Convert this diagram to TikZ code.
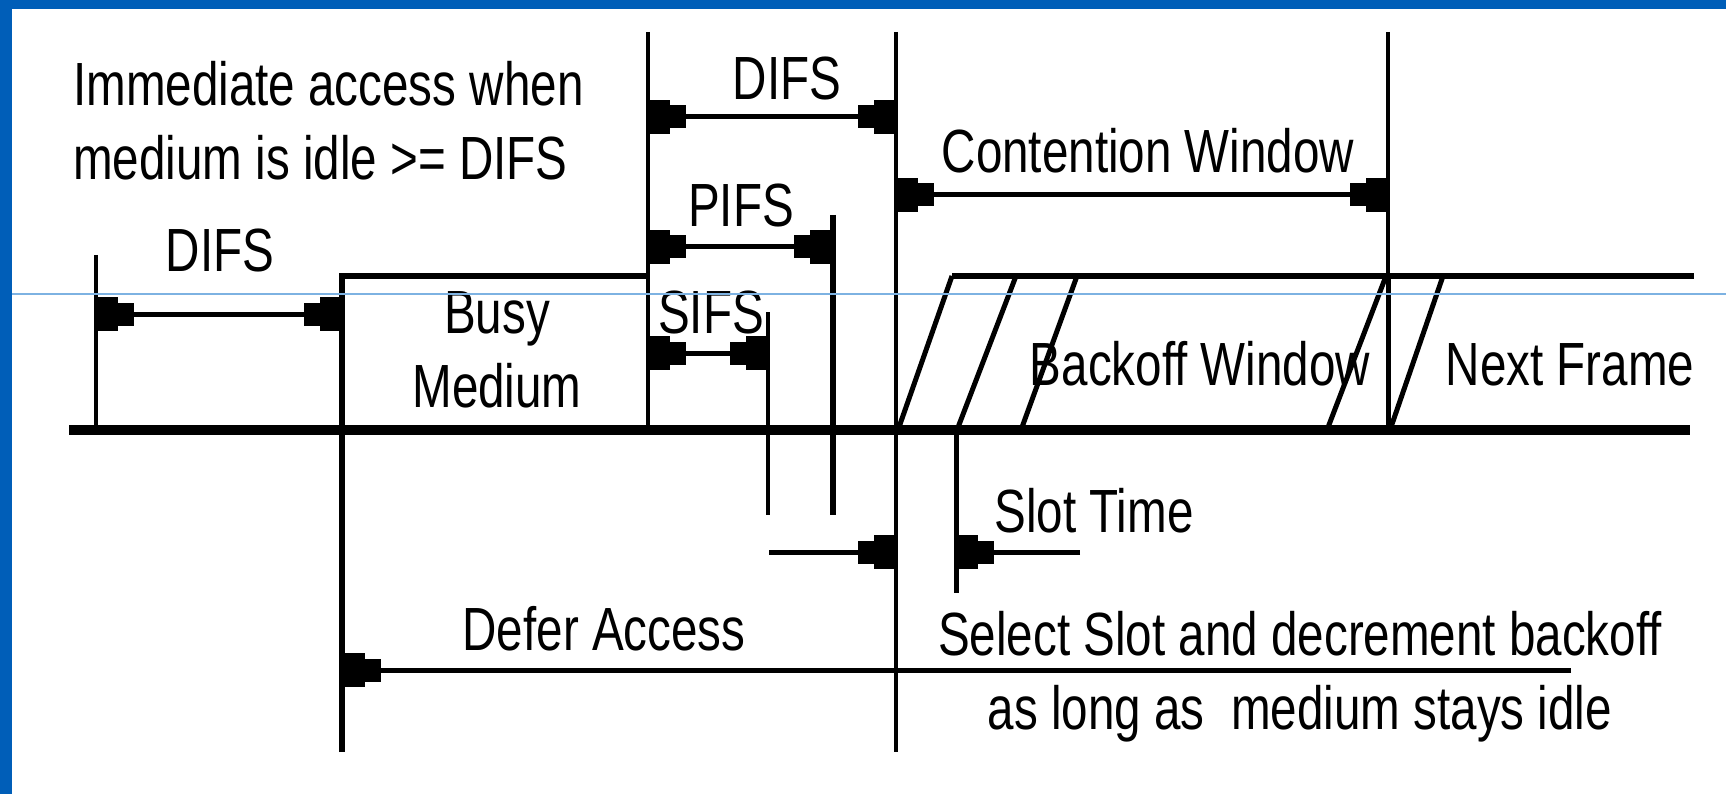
\documentclass[tikz,border=0pt]{standalone}
\usepackage{fontspec}
\usepackage{graphicx}
\setmainfont{Liberation Sans}
\usetikzlibrary{arrows.meta}
\definecolor{frameblue}{RGB}{0,94,184}
\definecolor{guideblue}{RGB}{125,178,226}
\newcommand{\sqz}[1]{\scalebox{0.78}[1]{#1}}
\begin{document}
\begin{tikzpicture}[x=1pt,y=-1pt,
  thinl/.style={line width=4pt},
  medl/.style={line width=6.5pt},
  basel/.style={line width=10pt},
  slant/.style={line width=5pt},
  dim/.style={line width=5pt,>={Rectangle[length=16pt,width=23pt,sep=0pt]Rectangle[length=20pt,width=34pt,sep=0pt]}},
  lbl/.style={inner sep=0pt,font=\fontsize{61}{74}\selectfont,anchor=base}
]
\useasboundingbox (0,0) rectangle (1726,794);
\fill[white] (0,0) rectangle (1726,794);
% frame bands
\fill[frameblue] (0,0) rectangle (1726,9);
\fill[frameblue] (0,0) rectangle (12,794);

% named coordinates
\coordinate (b0) at (69,430);
\coordinate (b1) at (1690,430);

% time axis
\draw[basel] (b0) -- (b1);
% verticals
\draw[thinl] (96,255) coordinate (vdifs) -- (96,430);
\draw[medl] (342,752) coordinate (vbusy) -- (342,276) -- (648,276);
\draw[thinl] (648,32) coordinate (vifs) -- (648,430);
\draw[thinl] (896,32) coordinate (vcw) -- (896,752);
\draw[medl] (833,215) coordinate (vpifs) -- (833,515);
\draw[thinl] (768,312) coordinate (vsifs) -- (768,515);
\draw[thinl] (1388,32) coordinate (vcwe) -- (1388,430);
\draw[slant] (1388,276) -- (1388,430);
\draw[slant] (956,430) coordinate (vslot) -- (956,593);
% backoff medium
\draw[medl] (952,276) -- (1694,276);
\draw[slant] (898,430) -- (952,276);
\draw[slant] (957,430) -- (1016,276);
\draw[slant] (1021,430) -- (1077,276);
\draw[slant] (1327,430) -- (1386,276);
\draw[slant] (1390,430) -- (1443,276);

% dimension arrows
\draw[dim,<->] (98,314) -- (340,314);
\draw[dim,<->] (650,117) -- (894,117);
\draw[dim,<->] (650,247) -- (830,247);
\draw[dim,<->] (650,353) -- (766,353);
\draw[dim,<->] (898,195) -- (1386,195);
\draw[dim,->] (769,552) -- (894,552);
\draw[dim,->] (1080,552) -- (958,552);
\draw[dim,->] (1571,670) -- (345,670);

% labels
\node[lbl,anchor=base west] (imm) at (73,106) {\sqz{\begin{tabular}[t]{@{}l@{}}Immediate access when\\medium is idle >= DIFS\end{tabular}}};
\node[lbl] (difsA) at (220,272) {\sqz{DIFS}};
\node[lbl] (difsB) at (787,100) {\sqz{DIFS}};
\node[lbl] (cw) at (1148,173) {\sqz{Contention Window}};
\node[lbl] (pifs) at (741,227) {\sqz{PIFS}};
\node[lbl] (sifs) at (711,333) {\sqz{SIFS}};
\node[lbl] (busy) at (497,333) {\sqz{\begin{tabular}[t]{@{}c@{}}Busy\\Medium\end{tabular}}};
\node[lbl] (bw) at (1200,385) {\sqz{Backoff Window}};
\node[lbl] (nf) at (1570,385) {\sqz{Next Frame}};
\node[lbl] (st) at (1094,532) {\sqz{Slot Time}};
\node[lbl] (da) at (604,650) {\sqz{Defer Access}};
\node[lbl] (sel) at (1300,655) {\sqz{\begin{tabular}[t]{@{}c@{}}Select Slot and decrement backoff\\as long as\ \ medium stays idle\end{tabular}}};

% guide line
\draw[guideblue,line width=1.5pt] (12,294) -- (1726,294);
\end{tikzpicture}
\end{document}
